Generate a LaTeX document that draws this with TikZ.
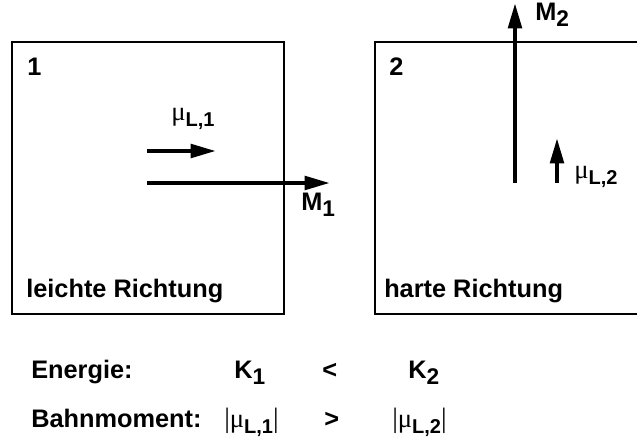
\documentclass[tikz,border=0pt]{standalone}
\usepackage{fontspec}
\setmainfont{Liberation Sans}
\newfontfamily\symfont{Liberation Serif}
\usetikzlibrary{arrows.meta, positioning}

% subscripts and orbital moment symbol
\newcommand{\lowidx}[1]{\raisebox{-4.5pt}{\fontsize{17}{17}\selectfont #1}}
\newcommand{\muL}[1]{{\symfont\mdseries\fontsize{20}{20}\selectfont μ}\raisebox{-5pt}{\fontsize{15}{15}\selectfont L,#1}}
\newcommand{\absbar}{{\symfont\mdseries\fontsize{21}{21}\selectfont |}}

\tikzset{
    box/.style={line width=0.9pt},
    vec/.style={line width=3.2pt, -{Triangle[length=19pt,width=10pt]}},
    lbl/.style={inner sep=0pt, anchor=base west, font=\bfseries\fontsize{19}{23}\selectfont}
}

\begin{document}
\begin{tikzpicture}[x=0.75pt, y=-0.75pt]
    \useasboundingbox (0,0) rectangle (637,443);

    % easy axis
    \draw[box] (12,42) rectangle (284,314);
    \node[lbl] (num1) at (27,75) {1};
    \node[lbl] (easy) at (26,297) {leichte Richtung};
    \coordinate (mu1s) at (147,151);
    \coordinate (mu1e) at (216,151);
    \coordinate (m1s) at (147,183);
    \coordinate (m1e) at (330,183);
    \draw[vec] (mu1s) -- (mu1e);
    \draw[vec] (m1s) -- (m1e);
    \node[lbl] (mu1) at (171,120) {\muL{1}};
    \node[lbl] (mag1) at (301,210) {M\lowidx{1}};

    % hard axis
    \draw[box] (637,42) -- (375,42) -- (375,314) -- (637,314);
    \node[lbl] (num2) at (389,75) {2};
    \node[lbl] (hard) at (384,297) {harte Richtung};
    \coordinate (m2s) at (515,183);
    \coordinate (m2e) at (515,3);
    \coordinate (mu2s) at (557,183);
    \coordinate (mu2e) at (557,138);
    \draw[vec] (m2s) -- (m2e);
    \draw[vec] (mu2s) -- (mu2e);
    \node[lbl] (mag2) at (535,20) {M\lowidx{2}};
    \node[lbl] (mu2) at (574,178) {\muL{2}};

    % comparison
    \node[lbl] (energy) at (31,378) {Energie:};
    \node[lbl] (k1) at (234,378) {K\lowidx{1}};
    \node[lbl] (less) at (322,378) {<};
    \node[lbl] (k2) at (408,378) {K\lowidx{2}};
    \node[lbl] (orbit) at (31,427) {Bahnmoment:};
    \node[lbl] (abs1) at (224,427) {\absbar\muL{1}\absbar};
    \node[lbl] (greater) at (324,427) {>};
    \node[lbl] (abs2) at (392,427) {\absbar\muL{2}\absbar};
\end{tikzpicture}
\end{document}
